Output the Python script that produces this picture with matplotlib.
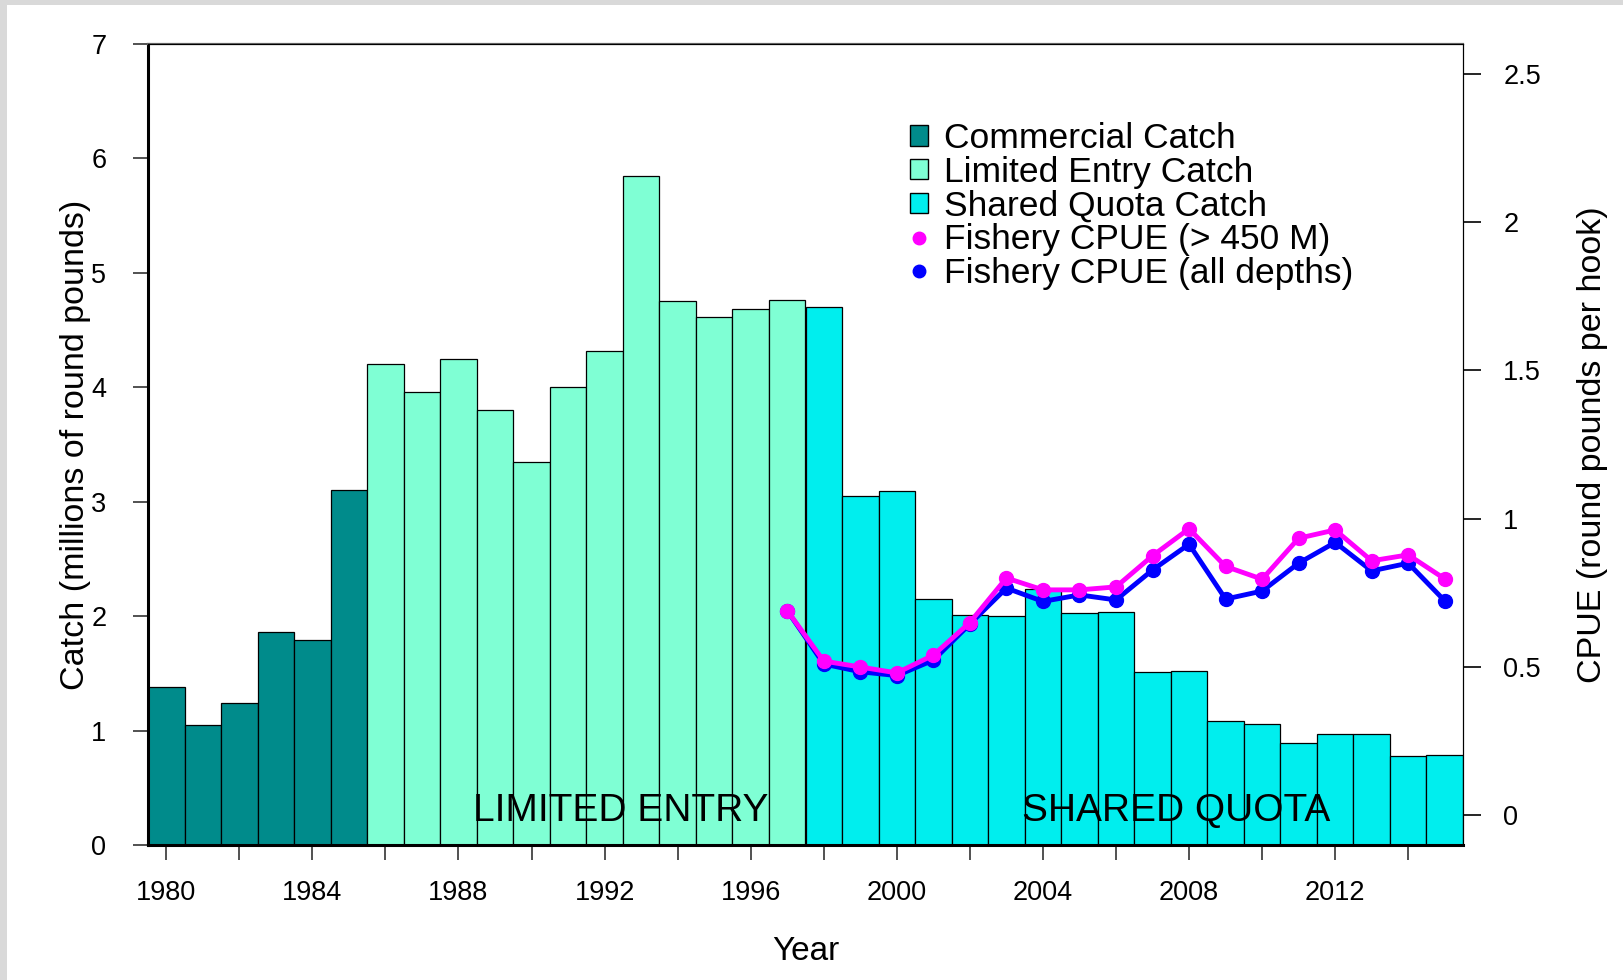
import numpy as np
import matplotlib
matplotlib.use("Agg")
import matplotlib.pyplot as plt
from matplotlib.patches import Rectangle, Patch
from matplotlib.lines import Line2D

plt.rcParams['font.family'] = ['Liberation Sans', 'DejaVu Sans']

# catch (millions of round pounds) by year
years = np.arange(1980, 2016)
catch = [1.38, 1.05, 1.24, 1.86, 1.79, 3.10,
         4.20, 3.96, 4.25, 3.80, 3.35, 4.00, 4.32, 5.85, 4.75, 4.61, 4.68, 4.76,
         4.70, 3.05, 3.09, 2.15, 2.01, 2.00, 2.24, 2.03, 2.04, 1.51, 1.52,
         1.08, 1.06, 0.89, 0.97, 0.97, 0.78, 0.79]
period = ['com'] * 6 + ['le'] * 12 + ['sq'] * 18

# fishery CPUE (round pounds per hook)
cpue_years = np.arange(1997, 2016)
cpue_deep = [0.69, 0.52, 0.50, 0.48, 0.54, 0.65, 0.80, 0.76, 0.76, 0.77,
             0.875, 0.966, 0.839, 0.796, 0.934, 0.962, 0.858, 0.878, 0.797]
cpue_all = [0.69, 0.51, 0.484, 0.471, 0.523, 0.645, 0.766, 0.721, 0.743, 0.726,
            0.827, 0.914, 0.729, 0.756, 0.850, 0.920, 0.824, 0.850, 0.723]

colors = {'com': '#008B8B', 'le': '#7FFFD4', 'sq': '#00EEEE'}

fig = plt.figure(figsize=(16.23, 9.8), dpi=100)
fig.patch.set_facecolor('#d9d9d9')
fig.add_artist(Rectangle((7 / 1623, 0), 1, 1 - 5 / 980, transform=fig.transFigure,
                         facecolor='white', edgecolor='none', zorder=-5))

ax = fig.add_axes([148 / 1623, 1 - 845 / 980, (1463 - 148) / 1623, (845 - 44) / 980])
ax.set_facecolor('none')
ax.bar(years, catch, width=1.0, color=[colors[p] for p in period],
       edgecolor='black', linewidth=0.9, zorder=2)
ax.set_xlim(1979.5, 2015.5)
ax.set_ylim(0, 7)
ax.set_xticks(np.arange(1980, 2016, 2))
ax.set_xticklabels([str(y) if (y - 1980) % 4 == 0 else '' for y in range(1980, 2016, 2)])
ax.set_yticks(range(0, 8))
ax.tick_params(axis='both', direction='out', labelsize=19.5, length=11, width=1.2, color='#333333')
ax.tick_params(axis='x', pad=14)
ax.tick_params(axis='y', pad=19)
ax.set_xlabel('Year', fontsize=24, labelpad=22)
ax.set_ylabel('Catch (millions of round pounds)', fontsize=24.5, labelpad=0)
for s in ['left', 'bottom']:
    ax.spines[s].set_linewidth(2.2)
ax.spines['top'].set_color('#666666')
ax.spines['top'].set_linewidth(1.6)

ax.text(1992.45, 0.295, 'LIMITED ENTRY', fontsize=28, ha='center', va='center', zorder=5)
ax.text(2007.65, 0.295, 'SHARED QUOTA', fontsize=28, ha='center', va='center', zorder=5)

ax2 = ax.twinx()
ax2.set_ylim(-0.1, 2.6)
ax2.set_yticks([0, 0.5, 1, 1.5, 2, 2.5])
ax2.set_yticklabels(['0', '0.5', '1', '1.5', '2', '2.5'])
ax2.tick_params(axis='y', direction='out', labelsize=19.5, length=13, width=1.2, pad=16)
ax2.plot(cpue_years, cpue_all, color='#0000FF', lw=3.5, marker='o', ms=10, zorder=3)
ax2.plot(cpue_years, cpue_deep, color='#FF00FF', lw=3.5, marker='o', ms=10, zorder=4)
ax2.set_ylabel('CPUE (round pounds per hook)', fontsize=24.5, labelpad=26)

handles = [Patch(facecolor=colors['com'], edgecolor='black'),
           Patch(facecolor=colors['le'], edgecolor='black'),
           Patch(facecolor=colors['sq'], edgecolor='black'),
           Line2D([], [], ls='none', marker='o', ms=9, color='#FF00FF'),
           Line2D([], [], ls='none', marker='o', ms=9, color='#0000FF')]
labels = ['Commercial Catch', 'Limited Entry Catch', 'Shared Quota Catch',
          'Fishery CPUE (> 450 M)', 'Fishery CPUE (all depths)']
ax2.legend(handles, labels, loc='upper left', bbox_to_anchor=(910 / 1623, 1 - 122 / 980),
           bbox_transform=fig.transFigure, frameon=False, fontsize=25.5,
           borderpad=0, borderaxespad=0, handlelength=0.5, handleheight=0.5,
           handletextpad=0.45, labelspacing=0.02)

fig.savefig('out.png', dpi=100, facecolor=fig.get_facecolor())
